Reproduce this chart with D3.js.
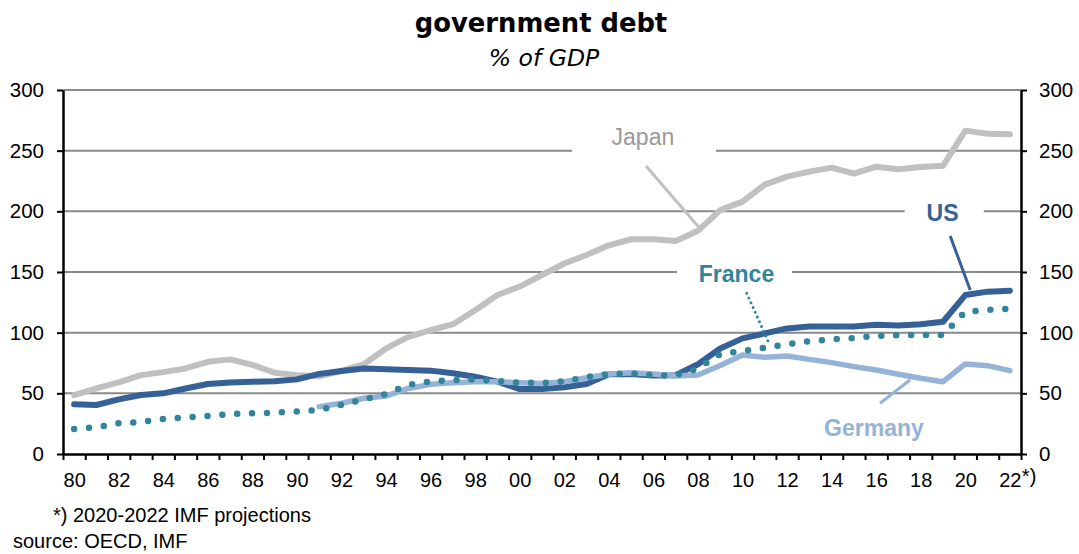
<!DOCTYPE html>
<html>
<head>
<meta charset="utf-8">
<script src="https://cdn.jsdelivr.net/npm/d3@7"></script>
<style>
  html, body { margin: 0; padding: 0; background: #fff; }
  svg { display: block; }
</style>
</head>
<body>
<svg id="chart" width="1079" height="554"></svg>
<script>
// ---------------- data ----------------
const years = d3.range(1980, 2023);
const japan = [48.6, 54, 59, 65, 67.5, 70.5, 76, 78, 73.5, 67, 65, 64, 68.5, 74, 87, 96.5, 102, 107, 118.5, 131,
  138, 147.5, 157, 164, 172, 177, 177, 175.5, 184, 201, 208, 222, 228.6, 232.7, 236, 231, 236.8, 234.6, 236.5, 237.5,
  266.5, 264, 263.5];
const us = [41, 40.4, 45, 48.6, 50, 54, 57.7, 59, 59.6, 60, 61.5, 66, 68.4, 70.5, 69.8, 69.2, 68.7, 66.5, 63.7, 59.6,
  53.5, 53.5, 55, 57.7, 65.7, 66, 64.6, 65, 74, 87, 95.3, 99.4, 103.5, 105, 105, 105, 106.5, 106, 107, 109,
  131, 133.8, 134.6];
const france = [20.6, 22, 25.3, 26.4, 28.8, 30.2, 31.3, 33, 33.5, 34, 35.1, 36.3, 40.4, 45, 49.4, 56.9, 59.9, 61, 61.5, 60.2,
  58.8, 58.5, 59.9, 63.5, 66, 66.5, 64.8, 64.8, 70.5, 82.4, 84.9, 87.6, 90.4, 92.9, 94.5, 95.6, 97.3, 98, 98, 98,
  117.3, 118.7, 119.8];
const germany = [null, null, null, null, null, null, null, null, null, null, null, 39, 41.8, 45.9, 47.8, 54, 57.4, 58.8, 59.6, 59.6,
  58.8, 58.2, 59.6, 62.9, 65.9, 67, 65.9, 64.3, 65.1, 73, 81.6, 79.7, 80.8, 78, 75.3, 72, 69.2, 65.7, 62.4, 59.6,
  74.2, 72.8, 68.7];
const yTicks = [0, 50, 100, 150, 200, 250, 300];
const xLabelYears = d3.range(1980, 2023, 2);
const xLabels = ["80","82","84","86","88","90","92","94","96","98","00","02","04","06","08","10","12","14","16","18","20","22"];

const title = "government debt";
const subtitle = "% of GDP";
const footnote = "*) 2020-2022 IMF projections";
const source = "source: OECD, IMF";

// ---------------- layout ----------------
const svg = d3.select("#chart");
const L = 63, R = 1021, T = 90, B = 454;
const x = d3.scaleLinear().domain([1979.5, 2022.5]).range([L, R]);
const y = d3.scaleLinear().domain([0, 300]).range([B, T]);

const colors = { japan: "#c0c0c0", us: "#356196", france: "#31849b", germany: "#95b3d7" };
const font = "'Liberation Sans', Arial, sans-serif";

// titles
svg.append("text").attr("x", 541).attr("y", 32).attr("text-anchor", "middle")
  .style("font-family", "'DejaVu Sans', Verdana, sans-serif").style("font-weight", "bold")
  .style("font-size", "25.8px").attr("fill", "#000").text(title);
svg.append("text").attr("x", 544).attr("y", 66).attr("text-anchor", "middle")
  .style("font-family", "'DejaVu Sans', Verdana, sans-serif").style("font-style", "italic")
  .style("font-size", "23.5px").attr("fill", "#000").text(subtitle);

// gridlines
svg.append("g").selectAll("line").data(yTicks.filter(d => d > 0)).join("line")
  .attr("x1", L).attr("x2", R).attr("y1", d => y(d)).attr("y2", d => y(d))
  .attr("stroke", "#8a8a8a").attr("stroke-width", 2);

// annotations config (data coordinates)
const annotations = [
  { text: "Japan", pos: [2005.53, 254.7], box: [2002.35, 2008.81, 240, 268], leader: [[2005.67, 237.4], [2008.02, 187.3]],
    color: "#999999", lineColor: colors.japan, bold: false, dotted: false },
  { text: "US", pos: [2018.98, 192.0], box: [2017.28, 2020.83, 185, 222], leader: [[2019.32, 179.7], [2020.22, 135.2]],
    color: colors.us, lineColor: colors.us, bold: true, dotted: false },
  { text: "France", pos: [2009.73, 142.0], box: [2007.06, 2012.22, 125, 160], leader: [[2010.19, 132.4], [2011.2, 90.7]],
    color: colors.france, lineColor: colors.france, bold: true, dotted: true },
  { text: "Germany", pos: [2015.9, 14.8], box: null, leader: [[2016.17, 41.8], [2017.52, 61.0]],
    color: colors.germany, lineColor: colors.germany, bold: true, dotted: false }
];

// white label boxes (hide gridlines behind labels)
svg.append("g").selectAll("rect").data(annotations.filter(a => a.box)).join("rect")
  .attr("x", a => x(a.box[0])).attr("width", a => x(a.box[1]) - x(a.box[0]))
  .attr("y", a => y(a.box[3])).attr("height", a => y(a.box[2]) - y(a.box[3]))
  .attr("fill", "#fff");

// series lines
const line = d3.line().defined(d => d[1] != null).x(d => x(d[0])).y(d => y(d[1]));
const series = [
  { key: "japan", values: japan, width: 6, dash: null },
  { key: "us", values: us, width: 6, dash: null },
  { key: "germany", values: germany, width: 5.5, dash: null },
  { key: "france", values: france, width: 6.5, dash: "0 14.9" }
];
svg.append("g").selectAll("path").data(series).join("path")
  .attr("d", s => line(years.map((yr, i) => [yr, s.values[i]])))
  .attr("fill", "none")
  .attr("stroke", s => colors[s.key])
  .attr("stroke-width", s => s.width)
  .attr("stroke-linejoin", "round")
  .attr("stroke-linecap", "round")
  .attr("stroke-dasharray", s => s.dash);

// leaders + labels
const ag = svg.append("g");
ag.selectAll("line").data(annotations).join("line")
  .attr("x1", a => x(a.leader[0][0])).attr("y1", a => y(a.leader[0][1]))
  .attr("x2", a => x(a.leader[1][0])).attr("y2", a => y(a.leader[1][1]))
  .attr("stroke", a => a.lineColor)
  .attr("stroke-width", 3)
  .attr("stroke-linecap", a => a.dotted ? "round" : "butt")
  .attr("stroke-dasharray", a => a.dotted ? "0 5.2" : null);
ag.selectAll("text").data(annotations).join("text")
  .attr("x", a => x(a.pos[0])).attr("y", a => y(a.pos[1]))
  .attr("text-anchor", "middle")
  .style("font-family", font)
  .style("font-weight", a => a.bold ? "bold" : "normal")
  .style("font-size", "23px")
  .attr("fill", a => a.color)
  .text(a => a.text);

// axes
const axisStyle = g => {
  g.select(".domain").attr("stroke", "#000").attr("stroke-width", 2.5);
  g.selectAll(".tick line").attr("stroke", "#000").attr("stroke-width", 2);
  g.selectAll("text").style("font-family", font).attr("fill", "#000");
};
svg.append("g").attr("transform", `translate(${L},0)`)
  .call(d3.axisLeft(y).tickValues(yTicks).tickSize(6).tickSizeOuter(0).tickPadding(13))
  .call(axisStyle)
  .call(g => g.selectAll("text").style("font-size", "20.5px"));
svg.append("g").attr("transform", `translate(${R},0)`)
  .call(d3.axisRight(y).tickValues(yTicks).tickSize(6).tickSizeOuter(0).tickPadding(12))
  .call(axisStyle)
  .call(g => g.selectAll("text").style("font-size", "20.5px"));
svg.append("g").attr("transform", `translate(0,${B})`)
  .call(d3.axisBottom(x).tickValues(d3.range(1979.5, 2023, 1)).tickSize(6).tickSizeOuter(0).tickFormat(""))
  .call(axisStyle);
svg.append("g").attr("transform", `translate(0,${B})`)
  .call(d3.axisBottom(x).tickValues(xLabelYears).tickSize(0).tickPadding(19)
    .tickFormat((d, i) => xLabels[i]))
  .call(g => g.select(".domain").remove())
  .call(g => g.selectAll("text").style("font-family", font).style("font-size", "20px").attr("fill", "#000"));
// asterisk after last label
svg.append("text").attr("x", x(2022) + 12).attr("y", 483)
  .style("font-family", font).style("font-size", "20px").attr("fill", "#000").text("*)");

// footnotes
svg.append("text").attr("x", 53).attr("y", 522)
  .style("font-family", font).style("font-size", "20px").attr("fill", "#000").text(footnote);
svg.append("text").attr("x", 13).attr("y", 548)
  .style("font-family", font).style("font-size", "20px").attr("fill", "#000").text(source);
</script>
</body>
</html>
